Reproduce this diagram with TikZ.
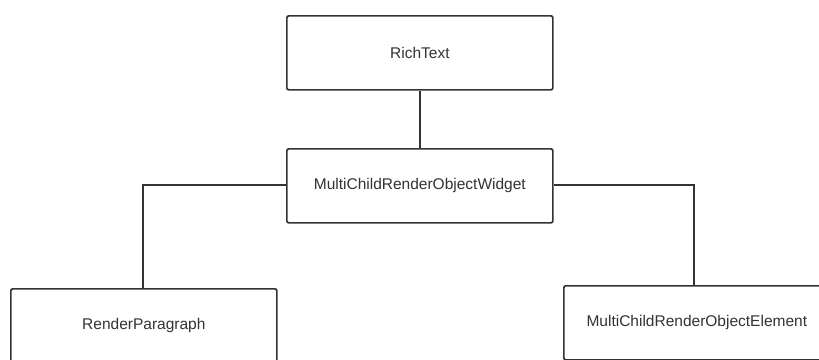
\documentclass[tikz,border=0pt]{standalone}
\usepackage{fontspec}
\setmainfont{Liberation Sans}
\definecolor{linec}{HTML}{333333}
\definecolor{textc}{HTML}{333333}
\tikzset{
  box/.style={draw=linec, line width=1.7pt, rounded corners=2pt, fill=white,
    minimum width=266pt, minimum height=74pt, inner sep=0pt, anchor=north west,
    font=\fontsize{15.5}{18}\selectfont, text=textc},
  conn/.style={draw=linec, line width=1.7pt}
}
\begin{document}
\begin{tikzpicture}[x=1pt,y=-1pt]
\useasboundingbox (0,0) rectangle (819,359);
\clip (0,0) rectangle (819,359);
\fill[white] (0,0) rectangle (819,359);
\node[box] (rich) at (286,15) {RichText};
\node[box] (widget) at (286,148) {MultiChildRenderObjectWidget};
\node[box] (para) at (10,288) {RenderParagraph};
\node[box] (elem) at (563,285) {MultiChildRenderObjectElement};
\coordinate (lj) at (143,185);
\coordinate (rj) at (694,185);
\draw[conn] (rich.south) -- (widget.north);
\draw[conn] (widget.west |- lj) -- (lj) -- (lj |- para.north);
\draw[conn] (widget.east |- rj) -- (rj) -- (rj |- elem.north);
\end{tikzpicture}
\end{document}
